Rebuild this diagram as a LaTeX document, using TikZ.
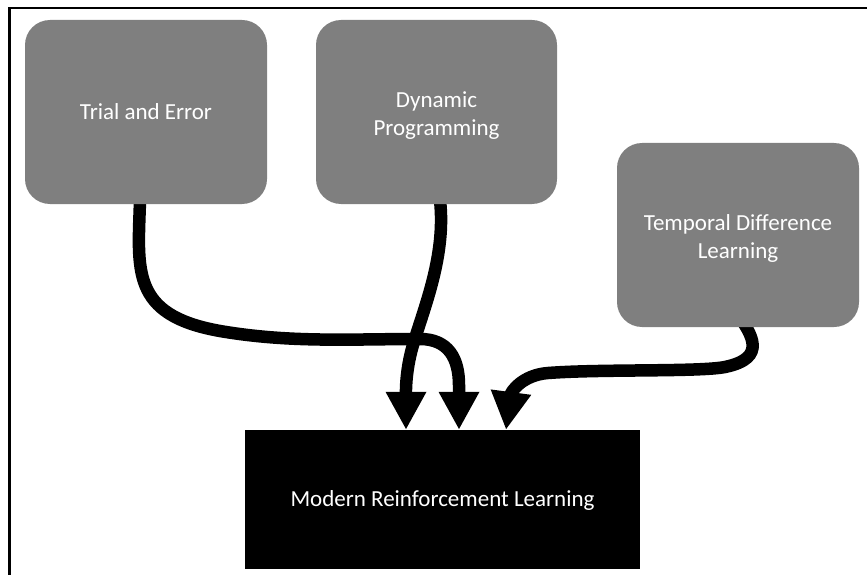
\documentclass[tikz,border=0pt]{standalone}
\usepackage{fontspec}
\setmainfont{Carlito}
\usetikzlibrary{arrows.meta,backgrounds}
\definecolor{boxgray}{RGB}{127,127,127}
\tikzset{
  graybox/.style={draw=none, fill=boxgray, rounded corners=25pt, inner sep=0pt,
    text=white, align=center, font=\fontsize{23}{28}\selectfont,
    text height=14.5pt, text depth=0pt},
  twolines/.style={text height=46.5pt, text depth=0pt},
  blackbox/.style={draw=none, fill=black, inner sep=0pt,
    text=white, align=center, font=\fontsize{23}{28}\selectfont,
    text height=14.5pt, text depth=0pt},
  flow/.style={line width=12.5pt, draw=black,
    -{Triangle[width=38pt,length=38pt]}},
}
\begin{document}
\begin{tikzpicture}[x=1pt,y=-1pt]
\useasboundingbox (0,0) rectangle (867,575);
\draw[line width=2.5pt] (9.5,580) -- (9.5,8.2) -- (870,8.2);

\node[graybox, minimum width=242pt, minimum height=184pt] (te) at (146,112) {Trial and Error};
\node[graybox, twolines, minimum width=241pt, minimum height=184pt] (dp) at (436.5,112) {Dynamic\\Programming};
\node[graybox, twolines, minimum width=242pt, minimum height=184pt] (td) at (738,235) {Temporal Difference\\Learning};
\node[blackbox, minimum width=395pt, minimum height=139pt] (mrl) at (442.5,499.5) {Modern Reinforcement Learning};

\coordinate (tip1) at ([xshift=-36.5pt]mrl.north);
\coordinate (tip2) at ([xshift=16.5pt]mrl.north);
\coordinate (tip3) at ([xshift=63.5pt]mrl.north);

\begin{scope}[on background layer]
\draw[flow] ([xshift=-6pt,yshift=4pt]te.south)
  .. controls (138,270) and (130,315) .. (220,331)
  .. controls (290,343) and (350,339) .. (420,339)
  .. controls (448,339) and (459,358) .. (459,385)
  -- (tip2);
\draw[flow] ([xshift=3.5pt,yshift=4pt]dp.south)
  .. controls (446,255) and (425,305) .. (413,345)
  .. controls (405,372) and (406,395) .. (tip1);
\draw[flow] ([xshift=-2pt,yshift=15pt]td.south)
  .. controls (752,334) and (768,358) .. (725,367)
  .. controls (700,372) and (600,369) .. (548,373)
  .. controls (522,375) and (511,392) .. (tip3);
\end{scope}
\end{tikzpicture}
\end{document}
